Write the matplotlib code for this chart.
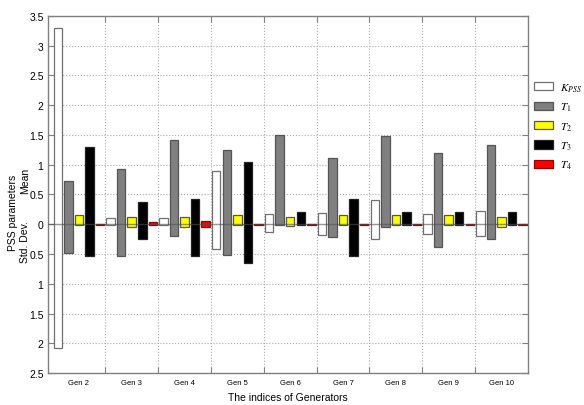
import matplotlib
matplotlib.use("Agg")
import matplotlib.pyplot as plt
import numpy as np
from matplotlib.patches import Patch

plt.rcParams['font.family'] = ['Liberation Sans', 'DejaVu Sans']
plt.rcParams['mathtext.fontset'] = 'stix'

gens = ['Gen 2', 'Gen 3', 'Gen 4', 'Gen 5', 'Gen 6', 'Gen 7', 'Gen 8', 'Gen 9', 'Gen 10']
series = [r'$K_{PSS}$', r'$T_1$', r'$T_2$', r'$T_3$', r'$T_4$']

# Mean values (upwards)
mean_kpss = [3.29, 0.11, 0.11, 0.89, 0.17, 0.185, 0.41, 0.17, 0.22]
mean_t1 = [0.72, 0.93, 1.41, 1.24, 1.50, 1.11, 1.48, 1.19, 1.34]
mean_t2 = [0.155, 0.13, 0.13, 0.15, 0.13, 0.155, 0.155, 0.155, 0.12]
mean_t3 = [1.29, 0.38, 0.43, 1.04, 0.20, 0.43, 0.20, 0.20, 0.20]
mean_t4 = [0.012, 0.04, 0.055, 0.012, 0.012, 0.012, 0.012, 0.012, 0.012]

# Standard deviations (downwards)
std_kpss = [2.08, 0.005, 0.005, 0.42, 0.13, 0.185, 0.25, 0.17, 0.19]
std_t1 = [0.49, 0.53, 0.20, 0.52, 0.01, 0.21, 0.04, 0.39, 0.24]
std_t2 = [0.005, 0.04, 0.05, 0.005, 0.03, 0.005, 0.005, 0.005, 0.04]
std_t3 = [0.54, 0.25, 0.53, 0.65, 0.005, 0.53, 0.005, 0.005, 0.005]
std_t4 = [0.008, 0.02, 0.05, 0.008, 0.008, 0.008, 0.008, 0.008, 0.008]

means = [mean_kpss, mean_t1, mean_t2, mean_t3, mean_t4]
stds = [std_kpss, std_t1, std_t2, std_t3, std_t4]
fills = ['white', '#808080', '#ffff00', 'black', '#ff0000']
edges = ['#707070', '#555555', '#555555', '#222222', '#990000']
offsets = [-0.4, -0.2, 0.0, 0.2, 0.4]

fig = plt.figure(figsize=(5.84, 4.06), dpi=100)
ax = fig.add_axes([0.0817, 0.0788, 0.8223, 0.8794])

x = np.arange(1, len(gens) + 1)
for m, s, fc, ec, off in zip(means, stds, fills, edges, offsets):
    m = np.array(m); s = np.array(s)
    ax.bar(x + off, m + s, bottom=-s, width=0.16, color=fc, edgecolor=ec,
           linewidth=0.9, zorder=3)

ax.axhline(0, color='#505050', lw=1.0, alpha=0.6, zorder=4)

ax.set_xlim(0.41, 9.5)
ax.set_ylim(-2.5, 3.5)
yt = np.arange(-2.5, 3.51, 0.5)
ax.set_yticks(yt)
ax.set_yticklabels([('%g' % abs(v)) for v in yt], fontsize=7.5)

ax.set_xticks(np.arange(1.5, 9.0, 1.0))
ax.set_xticklabels([])
ax.set_xticks(x, minor=True)
ax.set_xticklabels(gens, minor=True, fontsize=5.5)
ax.tick_params(axis='x', which='minor', length=0, pad=4)
ax.tick_params(axis='x', which='major', direction='in', length=4, top=True,
               color='#808080')
ax.tick_params(axis='y', direction='in', length=4, right=True, color='#808080',
               pad=3)

ax.grid(True, which='major', linestyle=':', color='#aaaaaa', linewidth=0.8)
ax.set_axisbelow(True)
for sp in ax.spines.values():
    sp.set_color('#808080')
    sp.set_linewidth(1.0)

fig.text(288 / 584, 1 - 398 / 406, 'The indices of Generators',
         ha='center', va='center', fontsize=7.5)

fig.text(13 / 584, 1 - 213 / 406, 'PSS parameters', rotation=90,
         ha='center', va='center', fontsize=7.5)
fig.text(25 / 584, 1 - 181 / 406, 'Mean', rotation=90,
         ha='center', va='center', fontsize=7.5)
fig.text(25 / 584, 1 - 242 / 406, 'Std. Dev.', rotation=90,
         ha='center', va='center', fontsize=7.5)

handles = [Patch(facecolor=fc, edgecolor=ec, linewidth=0.9)
           for fc, ec in zip(fills, edges)]
leg = fig.legend(handles, series, loc='upper left',
                 bbox_to_anchor=(532 / 584, 1 - 80 / 406), frameon=False,
                 fontsize=8, handlelength=1.7, handleheight=0.75,
                 labelspacing=0.62, handletextpad=0.6, borderaxespad=0,
                 borderpad=0.2)

fig.savefig('out.png', dpi=100)
